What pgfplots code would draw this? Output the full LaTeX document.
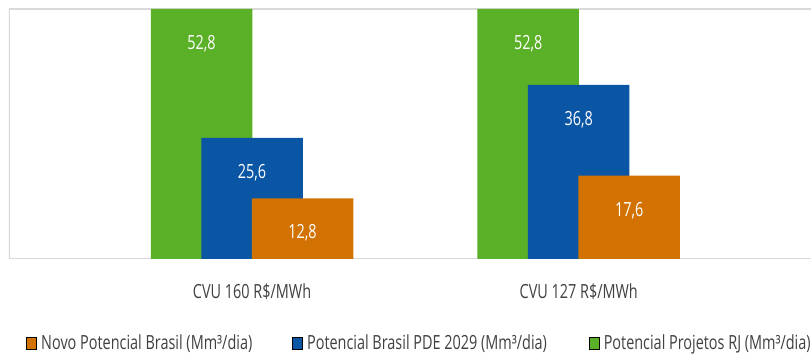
\documentclass[border=0pt]{standalone}
\usepackage{fontspec}
\setmainfont{Open Sans}[FakeStretch=0.74]
\usepackage{pgfplots}
\pgfplotsset{compat=1.18}

\definecolor{rjgreen}{HTML}{5AB026}
\definecolor{pdeblue}{HTML}{0A56A5}
\definecolor{novoorange}{HTML}{D17203}
\definecolor{framegray}{HTML}{D9D9D9}
\definecolor{labelgray}{HTML}{404040}
\newcommand\chartfont{\fontsize{9.75}{11.5}\selectfont}

\pgfkeys{/pgf/number format/.cd, use comma, fixed, fixed zerofill, precision=1, assume math mode=true}

\begin{document}
\begin{tikzpicture}
\begin{axis}[
  scale only axis, width=401pt, height=125pt,
  xmin=-0.744, xmax=1.711, ymin=0, ymax=52.8,
  enlargelimits=false,
  axis line style={draw=none},
  xtick={0,1},
  xticklabels={CVU 160 R\$/MWh, CVU 127 R\$/MWh},
  ytick=\empty,
  major tick length=0pt,
  xticklabel style={font=\chartfont, text=labelgray, anchor=base, yshift=-20pt},
  nodes near coords,
  nodes near coords style={text=white, anchor=north, inner sep=0pt, yshift=-13pt, font=\chartfont},
  legend columns=3,
  legend image code/.code={\fill[#1] (0pt,-2.8pt) rectangle (5pt,2.8pt);},
  legend style={draw=none, fill=none, inner sep=0pt,
    at={(axis description cs:0,0)}, anchor=west, xshift=8.5pt, yshift=-42.25pt,
    font=\chartfont, text=labelgray,
    /tikz/column 2/.style={column sep=18pt},
    /tikz/column 4/.style={column sep=19pt}},
  legend cell align=left,
]
  % light frame: top, left and baseline
  \draw[framegray, line width=0.6pt] (rel axis cs:1,1) -- (rel axis cs:0,1) -- (rel axis cs:0,0) -- (rel axis cs:1,0);

  % Potencial Projetos RJ (behind)
  \addplot[ybar, bar width=0.3107, bar shift=0pt, fill=rjgreen, draw=none, forget plot]
    coordinates {(-0.1546,52.8) (0.8454,52.8)};
  % Potencial Brasil PDE 2029
  \addplot[ybar, bar width=0.3107, bar shift=0pt, fill=pdeblue, draw=none, forget plot]
    coordinates {(0,25.6) (1,36.8)};
  % Novo Potencial Brasil (front)
  \addplot[ybar, bar width=0.3107, bar shift=0pt, fill=novoorange, draw=none, forget plot]
    coordinates {(0.1546,12.8) (1.1546,17.6)};

  \addlegendimage{fill=novoorange}
  \addlegendentry{Novo Potencial Brasil (Mm³/dia)}
  \addlegendimage{fill=pdeblue}
  \addlegendentry{Potencial Brasil PDE 2029 (Mm³/dia)}
  \addlegendimage{fill=rjgreen}
  \addlegendentry{Potencial Projetos RJ (Mm³/dia)}
\end{axis}
\pgfresetboundingbox
\path[use as bounding box] (-4.5pt,-49.5pt) rectangle (401pt,129.5pt);
\end{tikzpicture}
\end{document}
